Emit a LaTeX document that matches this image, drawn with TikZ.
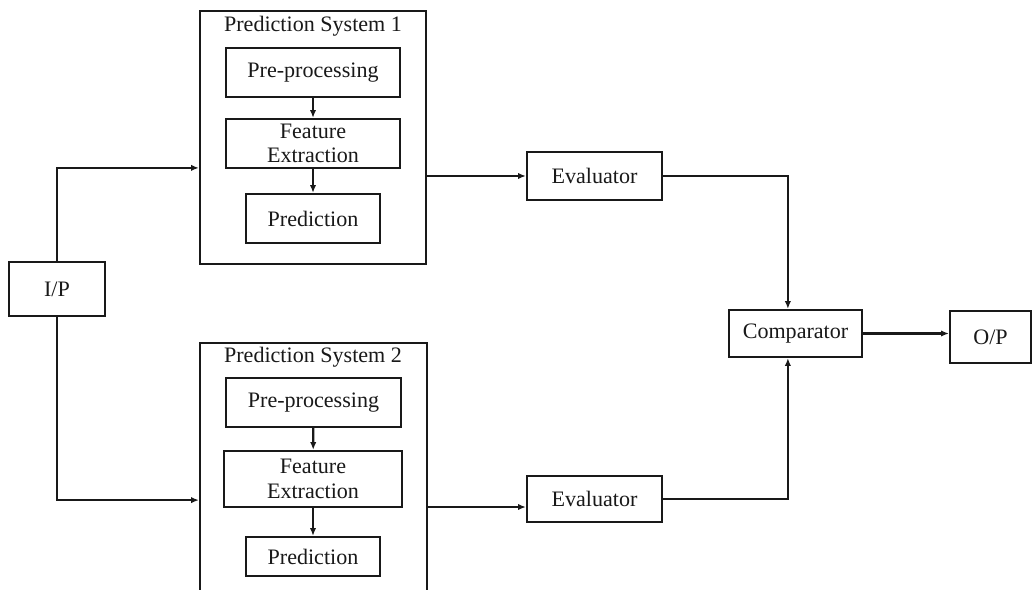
\documentclass[tikz,border=0pt]{standalone}
\usepackage{fontspec}
\setmainfont{Liberation Serif}
\usetikzlibrary{arrows.meta,calc}
\begin{document}
\begin{tikzpicture}[x=0.025cm,y=-0.025cm,
  every node/.style={font=\fontsize{15.7}{17.5}\selectfont, text=black!90},
  box/.style={draw=black!90, line width=1.6pt, inner sep=0pt, align=center},
  title/.style={inner sep=0pt},
  conn/.style={draw=black!90, line width=1.6pt, -{Latex[length=5.5pt,width=4.5pt]}},
  link/.style={draw=black!90, line width=1.6pt}]
\useasboundingbox (0,0) rectangle (1034,590);
\clip (0,0) rectangle (1034,590);
\fill[white] (0,0) rectangle (1034,590);

% Prediction System 1
\node[box, minimum width=5.65cm, minimum height=6.325cm] (ps1) at (313,137.5) {};
\node[title] (t1) at (313,26) {Prediction System 1};
\node[box, minimum width=4.35cm, minimum height=1.225cm] (pp1) at (313,72.5) {Pre-processing};
\node[box, minimum width=4.35cm, minimum height=1.225cm] (fe1) at (313,143.5) {Feature\\Extraction};
\node[box, minimum width=3.35cm, minimum height=1.225cm] (pr1) at (313,218.5) {Prediction};

% Prediction System 2
\node[box, minimum width=5.675cm, minimum height=6.675cm] (ps2) at (313.5,476.5) {};
\node[title] (t2) at (313,357) {Prediction System 2};
\node[box, minimum width=4.375cm, minimum height=1.225cm] (pp2) at (313.5,402.5) {Pre-processing};
\node[box, minimum width=4.45cm, minimum height=1.4cm] (fe2) at (313,479) {Feature\\Extraction};
\node[box, minimum width=3.35cm, minimum height=0.975cm] (pr2) at (313,556.5) {Prediction};

% Others
\node[box, minimum width=2.4cm, minimum height=1.35cm] (ip) at (57,289) {I/P};
\node[box, minimum width=3.375cm, minimum height=1.2cm] (e1) at (594.5,176) {Evaluator};
\node[box, minimum width=3.375cm, minimum height=1.15cm] (e2) at (594.5,499) {Evaluator};
\node[box, minimum width=3.325cm, minimum height=1.175cm] (cmp) at (795.5,333.5) {Comparator};
\node[box, minimum width=2.025cm, minimum height=1.3cm] (op) at (990.5,337) {O/P};

% Internal arrows
\draw[conn] (pp1) -- (fe1);
\draw[conn] (fe1) -- (pr1);
\draw[conn] (pp2) -- (fe2);
\draw[conn] (fe2) -- (pr2);

% Input split
\draw[conn] (ip.north) |- ([yshift=-0.76cm]ps1.west);
\draw[conn] (ip.south) |- ([yshift=-0.59cm]ps2.west);

% To evaluators
\draw[conn] (e1.west -| ps1.east) -- (e1.west);
\draw[conn] ([yshift=-0.2cm]e2.west -| ps2.east) -- ([yshift=-0.2cm]e2.west);

% To comparator
\draw[conn] (e1.east) -| ([xshift=-0.19cm]cmp.north);
\draw[conn] (e2.east) -| ([xshift=-0.19cm]cmp.south);

% To output
\draw[conn] (cmp.east) -- (cmp.east -| op.west);
\end{tikzpicture}
\end{document}
